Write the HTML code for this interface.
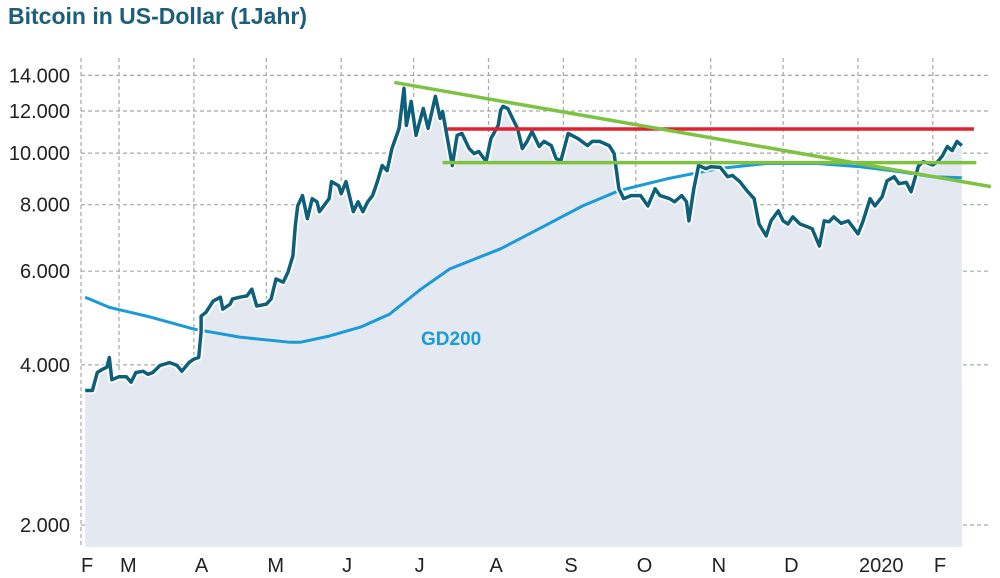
<!DOCTYPE html>
<html><head><meta charset="utf-8"><style>
body{margin:0;background:#fff;}
svg{display:block;font-family:"Liberation Sans",sans-serif;}
</style></head><body>
<svg id="chart" width="1000" height="578">
<text x="8" y="24" font-size="23" font-weight="bold" fill="#1b5f7b">Bitcoin in US-Dollar (1Jahr)</text>
<g id="grid"></g><g id="marks"></g><g id="labels"></g>
</svg>
<script>
const priceDays=[-14,-13,-11,-9,-7,-5,-4,-3,0,3,5,7,10,12,14,17,21,24,26,29,31,33,34,34,36,39,42,43,46,47,50,53,55,57,61,63,65,68,70,72,73,74,76,78,80,82,83,87,88,91,92,94,97,99,101,103,105,107,109,111,113,116,118,119,121,123,126,128,131,133,134,136,138,140,142,145,147,149,152,154,157,158,159,161,163,165,167,169,171,174,176,179,181,183,186,190,194,196,199,203,205,207,209,212,216,219,222,224,228,230,233,235,236,238,240,243,245,249,252,254,257,260,263,265,268,270,273,275,277,279,282,285,287,290,292,294,296,299,302,306,308,311,313,316,318,321,323,326,328,331,333,337,339,341,343,345,347,349];
const priceVals=[3580,3580,3580,3870,3920,3960,4130,3750,3800,3800,3710,3870,3890,3840,3870,3990,4040,3990,3890,4040,4100,4130,4610,4940,5020,5270,5360,5090,5200,5320,5360,5390,5550,5160,5200,5320,5800,5720,5980,6410,7300,7960,8320,7530,8210,8100,7760,8210,8840,8680,8390,8840,7760,8100,7760,8100,8320,8840,9480,9270,10200,11130,13240,11270,12510,10800,12130,11130,12790,11620,11980,10650,9480,10800,10890,10200,9980,10070,9640,10650,11270,12030,12240,12130,11620,11130,10200,10520,10980,10290,10520,10330,9770,9680,10890,10650,10330,10520,10520,10330,9980,8570,8210,8320,8320,7960,8570,8320,8210,8100,8320,8100,7460,8570,9480,9350,9430,9400,9030,9080,8840,8500,8210,7360,6990,7460,7790,7460,7360,7590,7360,7270,7210,6690,7460,7430,7590,7380,7460,7050,7430,8210,7960,8280,8870,9030,8760,8810,8460,9450,9640,9500,9640,9890,10290,10110,10520,10330];
const gdDays=[-14,-4,13,31,50,71,75,87,100,112,125,137,158,174,192,207,227,248,268,289,307,323,337,349];
const gdVals=[5360,5130,4920,4670,4510,4410,4410,4530,4710,4980,5550,6060,6610,7210,7960,8500,8950,9350,9560,9560,9430,9230,9030,8990];
const resistDays=[136,354];const resistVals=[11100,11100];
const supportDays=[134,355];const supportVals=[9600,9600];
const trendDays=[114,361];const trendVals=[13580,8650];
const yTicks=[2000,4000,6000,8000,10000,12000,14000];
const yTickLabels=["2.000","4.000","6.000","8.000","10.000","12.000","14.000"];
const monthDays=[0,31,61,92,122,153,184,214,245,275,306,337];
const monthLabels=["M","A","M","J","J","A","S","O","N","D","2020","F"];

const X=d=>119+d*2.415;
const Y=v=>525-532*Math.log10(v/2000);
const NS="http://www.w3.org/2000/svg";
function mk(tag,attrs,parent){const e=document.createElementNS(NS,tag);for(const k in attrs)e.setAttribute(k,attrs[k]);parent.appendChild(e);return e;}
const grid=document.getElementById('grid'),marks=document.getElementById('marks'),labels=document.getElementById('labels');
let pts=priceDays.map((d,i)=>X(d).toFixed(1)+","+Y(priceVals[i]).toFixed(1));
const fill=mk('path',{d:"M"+X(priceDays[0])+",547 L"+pts.join(" L")+" L"+X(priceDays[priceDays.length-1])+",547 Z",fill:"#e4e9f1"},marks);


yTicks.forEach((v,i)=>{
 const l=mk('line',{x1:81,x2:988,y1:Y(v),y2:Y(v),stroke:"#a8a8a8","stroke-width":1.2,"stroke-dasharray":"4 3"},grid);
 
 
 const t=mk('text',{x:70,y:Y(v)+7,"text-anchor":"end","font-size":20,fill:"#222"},labels);
 t.textContent=yTickLabels[i];
 
 
});
const ax=mk('line',{x1:81,x2:81,y1:58,y2:548,stroke:"#a8a8a8","stroke-width":1.2,"stroke-dasharray":"4 3"},grid);


const fl=mk('text',{x:81,y:572,"font-size":20,fill:"#222"},labels);fl.textContent="F";


monthDays.forEach((d,i)=>{
 const l=mk('line',{x1:X(d),x2:X(d),y1:58,y2:548,stroke:"#a8a8a8","stroke-width":1.2,"stroke-dasharray":"4 3"},grid);
 
 
 const t=mk('text',{x:X(d)+1,y:572,"font-size":20,fill:"#222"},labels);
 t.textContent=monthLabels[i];
 
 
});
const gd=mk('polyline',{points:gdDays.map((d,i)=>X(d)+","+Y(gdVals[i])).join(" "),fill:"none",stroke:"#1a9ad6","stroke-width":3,"stroke-linejoin":"round"},marks);


const halo=mk('polyline',{points:pts.join(" "),fill:"none",stroke:"#fff","stroke-width":7,"stroke-linejoin":"round"},marks);


const pl=mk('polyline',{points:pts.join(" "),fill:"none",stroke:"#0e5f7a","stroke-width":3.5,"stroke-linejoin":"round"},marks);


function seg(ds,vs,col){return mk('line',{x1:X(ds[0]),x2:X(ds[1]),y1:Y(vs[0]),y2:Y(vs[1]),stroke:col,"stroke-width":3.5},marks);}
const r=seg(resistDays,resistVals,"#e3202f");


const s=seg(supportDays,supportVals,"#7dc242");


const tr=seg(trendDays,trendVals,"#7dc242");


const g=mk('text',{x:421,y:345,"font-size":19,"font-weight":"bold",fill:"#1a9ad6"},labels);
g.textContent="GD200";


</script>
</body></html>
